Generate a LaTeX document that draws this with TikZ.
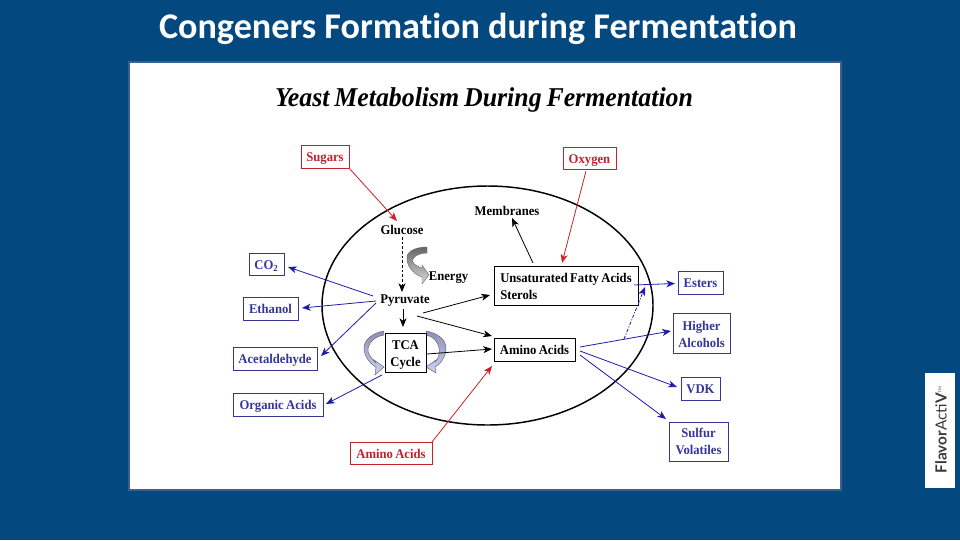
\documentclass[tikz,border=0pt]{standalone}
\usepackage{fontspec}
\setmainfont[FakeStretch=0.95,WordSpace=0.75]{Liberation Serif}
\newfontfamily\titlefont[Ligatures=NoCommon]{Carlito}
\newfontfamily\logofont{Lato}
\usetikzlibrary{arrows.meta}
\definecolor{bgblue}{HTML}{03497F}
\definecolor{framecol}{HTML}{3C5F8E}
\definecolor{redtxt}{HTML}{C4202E}
\definecolor{bluetxt}{HTML}{35359A}
\definecolor{bluearrow}{HTML}{1C1CAE}
\definecolor{redarrow}{HTML}{CF2028}
\definecolor{logotxt}{HTML}{3A3A3A}
\definecolor{capdark}{HTML}{8E8EB8}
\definecolor{caplight}{HTML}{CBD3F2}
\newcommand{\firstline}[1]{\rule{0pt}{#1pt}}
\tikzset{
  x=0.75pt,y=-0.75pt,
  lbl/.style={font=\bfseries\fontsize{10}{12.75}\selectfont,inner sep=0pt,align=center},
  oneline/.style={text height=9.5pt,text depth=1.5pt},
  freeline/.style={text height=8.5pt,text depth=1.5pt},
  sized/.style 2 args={minimum width=#1*0.75pt,minimum height=#2*0.75pt},
  blackbox/.style={lbl,draw=black,line width=0.7pt,fill=white},
  redbox/.style={lbl,draw=redtxt,line width=0.55pt,text=redtxt},
  bluebox/.style={lbl,draw=bluetxt,line width=0.6pt,text=bluetxt},
  conn/.style={-{Stealth[length=6.5pt,width=5.2pt,inset=1.8pt]},line width=0.6pt},
  blk/.style={conn,draw=black},
  rd/.style={conn,draw=redarrow},
  bl/.style={conn,draw=bluearrow},
  grayarrow/.style={draw=black!60,line width=0.3pt,top color=black!60,bottom color=black!15},
  purplearrow/.style={draw=black!60,line width=0.35pt,top color=capdark,bottom color=caplight},
}
\begin{document}
\begin{tikzpicture}
\useasboundingbox (0,0) rectangle (960,540);
\fill[bgblue] (0,0) rectangle (960,540);
\node[text=white,inner sep=0pt,font=\titlefont\bfseries\fontsize{27.1}{30}\selectfont] (title) at (478,29) {Congeners Formation during Fermentation};
\draw[framecol,line width=1.2pt,fill=white] (129,62) rectangle (841,490);
\node[inner sep=0pt,font=\bfseries\itshape\fontsize{20.4}{24}\selectfont] (head) at (484,100) {Yeast Metabolism During Fermentation};
% logo
\fill[white] (925,373) rectangle (955,488);
\node[rotate=90,inner sep=0pt,text=logotxt,font=\logofont\fontsize{11.5}{12}\selectfont] (logo) at (941,430) {\textbf{Flavor}Acti\textbf{V}\raisebox{4pt}{\fontsize{3}{3}\selectfont TM}};
% cell
\draw[black,line width=1.1pt] (487.5,305.5) ellipse [x radius=165.5,y radius=119.5];
% curved fat arrows
\path[grayarrow] (427,247) .. controls (412,247) and (405,254) .. (407,260) .. controls (408,268) and (415,275) .. (422,277) -- (422,284) -- (429,275) -- (422,265) -- (422,268) .. controls (415,266) and (411,262) .. (413,259) .. controls (415,255) and (421,253) .. (427,253) -- cycle;
\path[purplearrow] (384,331) .. controls (372,333) and (364,340) .. (364,348) .. controls (364,356) and (370,364) .. (376,367) -- (375,375) -- (384,367) -- (374,360) -- (376,363) .. controls (371,358) and (367,353) .. (368,348) .. controls (369,342) and (376,336) .. (384,335) -- cycle;
\path[purplearrow] (426,331) .. controls (438,333) and (446,340) .. (446,348) .. controls (446,356) and (441,364) .. (435,367) -- (436,373) -- (426,367) -- (436,360) -- (435,362) .. controls (439,358) and (440,353) .. (439,348) .. controls (438,342) and (433,336) .. (426,335) -- cycle;
% free labels
\node[lbl,freeline] (glucose) at (402,230) {Glucose};
\node[lbl,freeline] (energy) at (448.5,276) {Energy};
\node[lbl,freeline] (pyruvate) at (405,299) {Pyruvate};
\node[lbl,oneline] (membranes) at (507,210) {Membranes};
% boxes
\node[redbox,oneline,sized={48}{23}] (sugars) at (325,156.5) {Sugars};
\node[redbox,oneline,sized={53}{22}] (oxygen) at (589.5,158) {Oxygen};
\node[redbox,oneline,sized={82}{22}] (aminored) at (391,453) {Amino Acids};
\node[bluebox,oneline,sized={35}{22}] (co2) at (266.5,264) {CO\textsubscript{2}};
\node[bluebox,oneline,sized={55}{23}] (ethanol) at (270.5,308.5) {Ethanol};
\node[bluebox,oneline,sized={84}{23}] (acet) at (275,358.5) {Acetaldehyde};
\node[bluebox,oneline,sized={90}{23}] (organic) at (278,404.5) {Organic Acids};
\node[bluebox,oneline,sized={45}{23}] (esters) at (700.5,282.5) {Esters};
\node[bluebox,sized={57}{40}] (higher) at (701.5,333) {\firstline{9.8}Higher\\Alcohols};
\node[bluebox,oneline,sized={39}{23}] (vdk) at (700.5,388.5) {VDK};
\node[bluebox,sized={59}{39}] (sulfur) at (698.5,441.5) {Sulfur\\Volatiles};
\node[blackbox,sized={41}{39}] (tca) at (405.5,352.5) {\firstline{10.5}TCA\\Cycle};
\node[blackbox,sized={144}{39},align=left] (unsat) at (566,285.5) {\firstline{9}Unsaturated Fatty Acids\\Sterols};
\node[blackbox,oneline,sized={81}{23}] (amino) at (534.5,349.5) {Amino Acids};
% connectors
\draw[rd] ([shift={(24,11.5)}]sugars.center) -- ([shift={(-5,-9)}]glucose.center);
\draw[rd] ([shift={(-3.5,13)}]oxygen.center) -- ([shift={(-4,-22.5)}]unsat.center);
\draw[rd] ([shift={(41,-11)}]aminored.center) -- ([shift={(-42.5,16.5)}]amino.center);
\draw[blk] ([shift={(-33,-22.5)}]unsat.center) -- ([shift={(5,8)}]membranes.center);
\draw[blk,dash pattern=on 2pt off 1.5pt] ([shift={(0,7)}]glucose.center) -- ([shift={(-3,-7)}]pyruvate.center);
\draw[blk] ([shift={(-2,10)}]pyruvate.center) -- ([shift={(-2.5,-25.5)}]tca.center);
\draw[blk] ([shift={(18,14)}]pyruvate.center) -- ([shift={(-76,9.5)}]unsat.center);
\draw[blk] ([shift={(12,17)}]pyruvate.center) -- ([shift={(-42.5,-13.5)}]amino.center);
\draw[blk] ([shift={(21.5,1.5)}]tca.center) -- ([shift={(-42.5,-0.5)}]amino.center);
\draw[bl] ([shift={(-32,-3)}]pyruvate.center) -- ([shift={(21.5,3)}]co2.center);
\draw[bl] ([shift={(-29,2)}]pyruvate.center) -- ([shift={(31.5,-0.5)}]ethanol.center);
\draw[bl] ([shift={(-29,4)}]pyruvate.center) -- ([shift={(46,-2.5)}]acet.center);
\draw[bl] ([shift={(-23.5,22.5)}]tca.center) -- ([shift={(48,-0.5)}]organic.center);
\draw[bl] ([shift={(68,-0.5)}]unsat.center) -- ([shift={(-25.5,1)}]esters.center);
\draw[bl] ([shift={(45.5,-2.5)}]amino.center) -- ([shift={(-30.5,-2)}]higher.center);
\draw[bl] ([shift={(45.5,1.5)}]amino.center) -- ([shift={(-23.5,-1.5)}]vdk.center);
\draw[bl] ([shift={(45.5,5.5)}]amino.center) -- ([shift={(-32.5,-22.5)}]sulfur.center);
\draw[bl,dash pattern=on 2.5pt off 1.2pt on 0.8pt off 1.2pt] ([shift={(-77.5,6)}]higher.center) -- ([shift={(-55.5,4.5)}]esters.center);
\end{tikzpicture}
\end{document}
